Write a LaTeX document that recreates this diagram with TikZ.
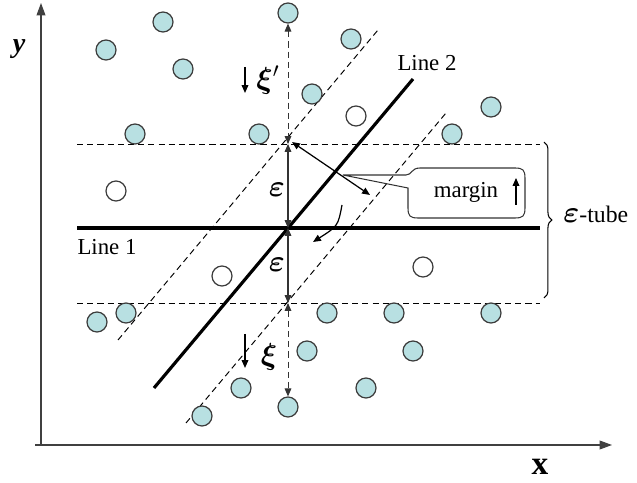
\documentclass[tikz,border=0pt]{standalone}
\usepackage{amsmath,amssymb}
\usepackage{bm}
\usepackage{fontspec}
\setmainfont{Liberation Serif}
\usetikzlibrary{positioning,arrows.meta,decorations.pathreplacing,calc}
\definecolor{ptfill}{RGB}{184,224,226}
\definecolor{ptline}{RGB}{60,60,60}

\begin{document}
\begin{tikzpicture}[
  x=0.02cm, y=-0.02cm,
  >={Triangle[length=4.5pt,width=3.8pt]},
  pt/.style={circle,draw=ptline,line width=0.7pt,fill=ptfill,
    minimum size=0.4cm,inner sep=0pt},
  hollow/.style={pt,fill=white},
  boldline/.style={line width=1.8pt},
  tubeline/.style={dash pattern=on 3.5pt off 2.3pt,line width=0.55pt},
  gap/.style={black!80,line width=0.6pt},
  lbl/.style={font=\fontsize{13}{15}\selectfont,inner sep=0pt},
  greek/.style={font=\fontsize{18}{19}\selectfont}
]
\useasboundingbox (0,0) rectangle (637,483);

% axes
\draw[black!75,line width=0.6pt,
  -{Triangle[length=7pt,width=5pt]}] (41,445) -- (41,3);
\draw[black!75,line width=0.6pt,
  -{Triangle[length=7pt,width=5pt]}] (35,445) -- (612,445);
\node[font=\fontsize{16}{18}\selectfont\bfseries\itshape] (ylab) at (19,49) {y};
\node[font=\fontsize{19}{20}\selectfont\bfseries] (xlab) at (540,467) {x};

% epsilon-tube of line 1
\draw[tubeline] (77,144) -- (540,144);
\draw[tubeline] (77,303) -- (540,303);
\draw[boldline] (77,228) -- (540,228);
\node[lbl] (l1) at (107,247) {Line 1};

% line 2 and its tube
\draw[tubeline] (118,340) -- (378,30);
\draw[tubeline] (186,423) -- (446,113);
\draw[boldline] (154,388) -- (413,79);
\node[lbl] (l2) at (427,63) {Line 2};

% data points
\foreach \px/\py [count=\i] in {163/22,106/50,183/69,312/94,351/39,135/134,
    259/134,491/107,452/134,97/322,126/313,327/313,394/313,491/313,
    307/351,413/351,241/388,366/388,202/416}
  \node[pt] (p\i) at (\px,\py) {};
\node[pt] (ptop) at (288,13) {};
\node[pt] (pbot) at (288,407) {};
\foreach \px/\py [count=\i] in {116/191,356/116,222/276,423/267}
  \node[hollow] (h\i) at (\px,\py) {};

% distances on the vertical
\coordinate (up) at (288,144);
\coordinate (mid) at (288,228);
\coordinate (dn) at (288,303);
\draw[gap,tubeline,<->] (ptop) -- (up);
\draw[gap,<->] (up) -- (mid);
\draw[gap,<->] (mid) -- (dn);
\draw[gap,tubeline,<->] (dn) -- (pbot);
\node[greek] (e1) at (277,190) {$\bm{\varepsilon}$};
\node[greek] (e2) at (277,265) {$\bm{\varepsilon}$};

% slack variables
\draw[line width=0.7pt,->] (245,67) -- (245,93);
\node[greek] (xi1) at (268,80) {$\bm{\xi}'$};
\draw[line width=0.7pt,->] (245,334) -- (245,368);
\node[greek] (xi2) at (269,357) {$\bm{\xi}$};

% margin of line 2
\coordinate (m1) at (292,142);
\coordinate (m2) at (370,195);
\draw[line width=0.7pt,<->] (m1) -- (m2);
\coordinate (r1) at (342,205);
\coordinate (r2) at (313,242);
\draw[line width=0.7pt,->] (r1) .. controls (338,226) .. (r2);

% callout
\coordinate (mtip) at (343,175);
\draw[line width=0.6pt,black!80]
  (mtip) -- (406,175) .. controls (412,175) and (411,168) .. (420,168)
  -- (515,168) .. controls (523,168) and (525,170) .. (525,178)
  -- (525,208) .. controls (525,216) and (523,218) .. (515,218)
  -- (418,218) .. controls (410,218) and (408,216) .. (408,208)
  -- (408,188) -- cycle;
\node[lbl] (mg) at (466,192) {margin};
\draw[line width=0.7pt,->] (516,205) -- (516,178);

% brace and label
\draw[line width=0.6pt,decorate,decoration={brace,amplitude=4.5pt}]
  (544,142) -- (544,298);
\node[anchor=west,inner sep=0pt] (tube) at (563,214)
  {\fontsize{19}{20}\selectfont$\boldsymbol{\varepsilon}$%
   \fontsize{13.5}{15}\selectfont-tube};
\end{tikzpicture}
\end{document}
